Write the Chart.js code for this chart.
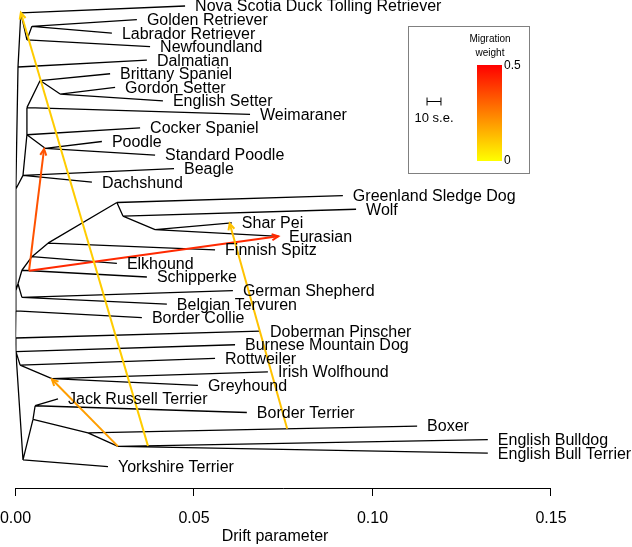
<!DOCTYPE html>
<html>
<head>
<meta charset="utf-8">
<script src="https://cdn.jsdelivr.net/npm/chart.js@4.4.0/dist/chart.umd.min.js"></script>
<style>
body { margin: 0; background: #fff; }
</style>
</head>
<body>
<canvas id="arvore" width="632" height="547"></canvas>
<script>
// leaves, top to bottom (row = index)
var leafNames = [
  "Nova Scotia Duck Tolling Retriever", "Golden Retriever", "Labrador Retriever", "Newfoundland",
  "Dalmatian", "Brittany Spaniel", "Gordon Setter", "English Setter", "Weimaraner",
  "Cocker Spaniel", "Poodle", "Standard Poodle", "Beagle", "Dachshund",
  "Greenland Sledge Dog", "Wolf", "Shar Pei", "Eurasian", "Finnish Spitz", "Elkhound",
  "Schipperke", "German Shepherd", "Belgian Tervuren", "Border Collie", "Doberman Pinscher",
  "Burnese Mountain Dog", "Rottweiler", "Irish Wolfhound", "Greyhound", "Jack Russell Terrier",
  "Border Terrier", "Boxer", "English Bulldog", "English Bull Terrier", "Yorkshire Terrier"
];
var leafDrift = [
  0.0475, 0.0340, 0.0270, 0.0377, 0.0368, 0.0265, 0.0279, 0.0413, 0.0657,
  0.0349, 0.0242, 0.0391, 0.0444, 0.0214, 0.0917, 0.0954, 0.0606, 0.0738, 0.0559, 0.0284,
  0.0368, 0.0609, 0.0424, 0.0354, 0.0685, 0.0615, 0.0559, 0.0707, 0.0511, 0.0119,
  0.0648, 0.1125, 0.1323, 0.1323, 0.0259
];

// internal nodes
var nodeIds   = ["A", "B", "C", "D", "E", "F", "G", "H", "I", "J", "SpA",
                 "M", "N", "O", "L", "R", "Q", "P", "SpB", "S", "Sp2", "Sp3", "Sp4",
                 "T", "U", "V", "X", "W", "Z", "Y"];
var nodeDrift = [0.0015, 0.0032, 0.0046, 0.0007, 0.0032, 0.0069, 0.0125, 0.0032, 0.0083, 0.0021, 0.0001,
                 0.0284, 0.0301, 0.0391, 0.0091, 0.0046, 0.0018, 0.0007, 0.0001, 0.0018, 0.0001, 0.0000, 0.0001,
                 0.0013, 0.0102, 0.0021, 0.0049, 0.0055, 0.0203, 0.0287];
var nodeRow   = [0.5, 2.5, 1.5, 4.5, 7.5, 5.5, 6.5, 9.5, 10.5, 12.5, 13.5,
                 14.5, 15.5, 16.5, 17.5, 18.5, 19.5, 20.5, 21.0, 21.5, 22.5, 24.5, 25.5,
                 26.5, 27.5, 33.5, 30.5, 29.5, 31.5, 32.5];

var edges = [
  ["A", "Nova Scotia Duck Tolling Retriever"], ["A", "B"], ["B", "C"],
  ["C", "Golden Retriever"], ["C", "Labrador Retriever"], ["B", "Newfoundland"],
  ["D", "A"], ["D", "Dalmatian"], ["SpA", "D"], ["SpA", "J"],
  ["J", "Beagle"], ["J", "Dachshund"], ["J", "H"], ["H", "E"],
  ["E", "F"], ["E", "Weimaraner"], ["F", "Brittany Spaniel"], ["F", "G"],
  ["G", "Gordon Setter"], ["G", "English Setter"], ["H", "Cocker Spaniel"], ["H", "I"],
  ["I", "Poodle"], ["I", "Standard Poodle"], ["SpA", "SpB"], ["SpB", "P"], ["P", "Q"],
  ["Q", "Schipperke"], ["Q", "R"], ["R", "Elkhound"], ["R", "L"], ["L", "Finnish Spitz"],
  ["L", "M"], ["M", "Greenland Sledge Dog"], ["M", "N"], ["N", "Wolf"], ["N", "O"],
  ["O", "Shar Pei"], ["O", "Eurasian"], ["P", "S"], ["S", "German Shepherd"],
  ["S", "Belgian Tervuren"], ["SpB", "Sp2"], ["Sp2", "Border Collie"], ["Sp2", "Sp3"],
  ["Sp3", "Doberman Pinscher"], ["Sp3", "Sp4"], ["Sp4", "Burnese Mountain Dog"], ["Sp4", "T"],
  ["T", "Rottweiler"], ["T", "U"], ["U", "Irish Wolfhound"], ["U", "Greyhound"],
  ["Sp4", "V"], ["V", "Yorkshire Terrier"], ["V", "X"], ["X", "W"],
  ["W", "Jack Russell Terrier"], ["W", "Border Terrier"], ["X", "Z"], ["Z", "Boxer"],
  ["Z", "Y"], ["Y", "English Bulldog"], ["Y", "English Bull Terrier"]
];

// migration edges
var migFromDrift = [0.0371, 0.0761, 0.0038, 0.0038, 0.0287];
var migFromRow   = [32.46, 31.2, 19.53, 19.53, 32.5];
var migToDrift   = [0.0015, 0.0600, 0.0080, 0.0736, 0.0102];
var migToRow     = [0.5, 16.05, 10.55, 17.0, 27.55];
var migWeight    = [0.10, 0.12, 0.34, 0.42, 0.19];

var xTicks = [0, 0.05, 0.10, 0.15];
var seLength = 0.0039; // 10 s.e.

var font = "'Liberation Sans', Arial, Helvetica, sans-serif";

function weightColor(w) {
  var t = Math.min(w / 0.5, 1);
  return "rgb(255," + Math.round(255 * (1 - t)) + ",0)";
}

var pos = {};
for (var i = 0; i < leafNames.length; i++) pos[leafNames[i]] = { x: leafDrift[i], y: i };
for (var i = 0; i < nodeIds.length; i++) pos[nodeIds[i]] = { x: nodeDrift[i], y: nodeRow[i] };

var treePts = [];
edges.forEach(function (e) {
  treePts.push({ x: pos[e[0]].x, y: pos[e[0]].y });
  treePts.push({ x: pos[e[1]].x, y: pos[e[1]].y });
  treePts.push({ x: null, y: null });
});

var datasets = [{
  data: treePts, showLine: true, spanGaps: false, borderColor: "#000",
  borderWidth: 1.3, pointRadius: 0, order: 2
}];
for (var i = 0; i < migWeight.length; i++) {
  datasets.push({
    data: [{ x: migFromDrift[i], y: migFromRow[i] }, { x: migToDrift[i], y: migToRow[i] }],
    showLine: true, borderColor: weightColor(migWeight[i]), borderWidth: 2,
    pointRadius: 0, order: 1
  });
}

var extras = {
  id: "extras",
  afterDatasetsDraw: function (chart) {
    var ctx = chart.ctx, xs = chart.scales.x, ys = chart.scales.y;
    ctx.save();

    // arrow heads
    for (var i = 0; i < migWeight.length; i++) {
      var x1 = xs.getPixelForValue(migFromDrift[i]), y1 = ys.getPixelForValue(migFromRow[i]);
      var x2 = xs.getPixelForValue(migToDrift[i]), y2 = ys.getPixelForValue(migToRow[i]);
      var a = Math.atan2(y2 - y1, x2 - x1);
      ctx.strokeStyle = weightColor(migWeight[i]);
      ctx.lineWidth = 2;
      ctx.beginPath();
      ctx.moveTo(x2 - 7 * Math.cos(a - 0.45), y2 - 7 * Math.sin(a - 0.45));
      ctx.lineTo(x2, y2);
      ctx.lineTo(x2 - 7 * Math.cos(a + 0.45), y2 - 7 * Math.sin(a + 0.45));
      ctx.stroke();
    }

    // leaf labels
    ctx.fillStyle = "#000";
    ctx.font = "16px " + font;
    ctx.textBaseline = "middle";
    ctx.textAlign = "left";
    for (var i = 0; i < leafNames.length; i++) {
      ctx.fillText(leafNames[i], xs.getPixelForValue(leafDrift[i]) + 10, ys.getPixelForValue(i) + 1);
    }

    // axis line from first to last tick, and its title
    ctx.strokeStyle = "#000";
    ctx.lineWidth = 1;
    ctx.beginPath();
    ctx.moveTo(xs.getPixelForValue(xTicks[0]), xs.top + 0.5);
    ctx.lineTo(xs.getPixelForValue(xTicks[xTicks.length - 1]), xs.top + 0.5);
    ctx.stroke();
    ctx.textAlign = "center";
    ctx.fillText("Drift parameter", xs.getPixelForValue(0.0727), 537);

    // legend box
    ctx.strokeStyle = "#808080";
    ctx.strokeRect(408.5, 26.5, 121, 147);
    var g = ctx.createLinearGradient(0, 65, 0, 161);
    g.addColorStop(0, weightColor(0.5));
    g.addColorStop(1, weightColor(0));
    ctx.fillStyle = g;
    ctx.fillRect(477, 65, 25, 96);
    ctx.fillStyle = "#000";
    ctx.font = "10px " + font;
    ctx.textAlign = "center";
    ctx.fillText("Migration", 490, 39);
    ctx.fillText("weight", 490, 53);
    ctx.font = "12px " + font;
    ctx.textAlign = "left";
    ctx.fillText("0.5", 504, 66);
    ctx.fillText("0", 504, 161);

    // scale bar
    var len = seLength * (xs.getPixelForValue(0.1) - xs.getPixelForValue(0)) / 0.1;
    var bx = 434 - len / 2, by = 101.5;
    ctx.strokeStyle = "#000";
    ctx.beginPath();
    ctx.moveTo(bx, by); ctx.lineTo(bx + len, by);
    ctx.moveTo(bx, by - 4); ctx.lineTo(bx, by + 4);
    ctx.moveTo(bx + len, by - 4); ctx.lineTo(bx + len, by + 4);
    ctx.stroke();
    ctx.font = "13px " + font;
    ctx.textAlign = "center";
    ctx.fillText("10 s.e.", 434, 118);
    ctx.restore();
  }
};

var chart = new Chart(document.getElementById("arvore").getContext("2d"), {
  type: "scatter",
  data: { datasets: datasets },
  options: {
    responsive: false,
    animation: false,
    events: [],
    layout: { padding: 0 },
    plugins: { legend: { display: false }, tooltip: { enabled: false } },
    scales: {
      x: {
        type: "linear", min: 0, max: 0.17269,
        afterFit: function (s) { s.height = 59; s.paddingLeft = 15.5; s.paddingRight = 0; },
        afterBuildTicks: function (s) { s.ticks = xTicks.map(function (v) { return { value: v }; }); },
        border: { display: false },
        grid: { display: true, drawOnChartArea: false, drawTicks: true, tickLength: 8, color: "#000", lineWidth: 1 },
        ticks: {
          color: "#000", padding: 13, font: { size: 16, family: font },
          maxRotation: 0, autoSkip: false,
          callback: function (v) { return Number(v).toFixed(2); }
        },
        title: { display: false }
      },
      y: { type: "linear", reverse: true, min: -0.443, max: 35.57, display: false }
    }
  },
  plugins: [extras]
});
</script>
</body>
</html>
